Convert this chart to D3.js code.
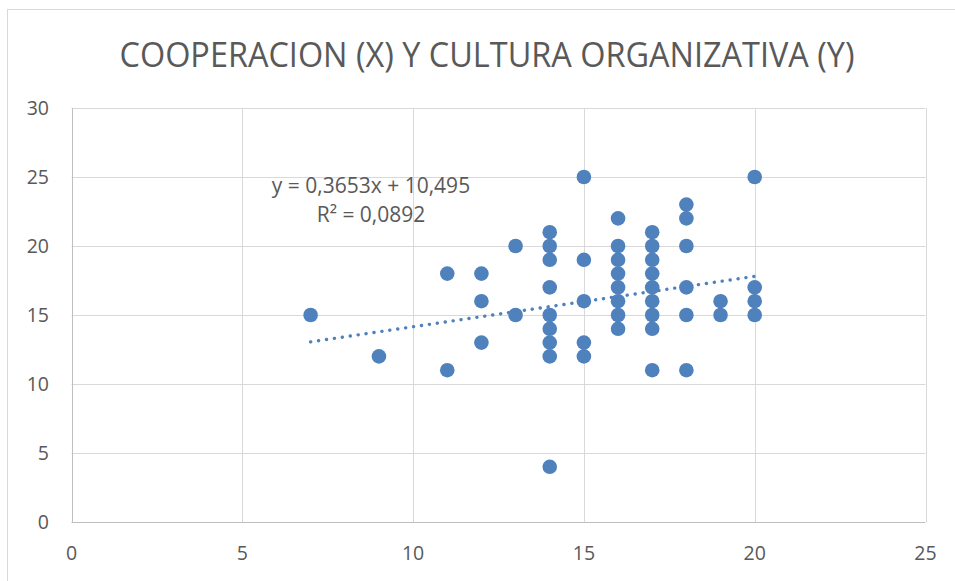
<!DOCTYPE html>
<html>
<head>
<meta charset="utf-8">
<script src="https://cdn.jsdelivr.net/npm/d3@7"></script>
<style>
  body { margin: 0; background: #fff; }
  text { font-family: "Open Sans", sans-serif; fill: #595959; }
</style>
</head>
<body>
<div id="chart"></div>
<script>
// puntos del grafico (x = cooperacion, y = cultura organizativa)
const cooperacion = [7, 9, 11, 11, 12, 12, 12, 13, 13,
  14, 14, 14, 14, 14, 14, 14, 14, 14,
  15, 15, 15, 15, 15,
  16, 16, 16, 16, 16, 16, 16, 16,
  17, 17, 17, 17, 17, 17, 17, 17, 17,
  18, 18, 18, 18, 18, 18,
  19, 19,
  20, 20, 20, 20];
const cultura = [15, 12, 18, 11, 18, 16, 13, 20, 15,
  21, 20, 19, 17, 15, 14, 13, 12, 4,
  25, 19, 16, 13, 12,
  22, 20, 19, 18, 17, 16, 15, 14,
  21, 20, 19, 18, 17, 16, 15, 14, 11,
  23, 22, 20, 17, 15, 11,
  16, 15,
  25, 17, 16, 15];

const xTicks = [0, 5, 10, 15, 20, 25];
const yTicks = [0, 5, 10, 15, 20, 25, 30];

// linea de tendencia
const slope = 0.3653, intercept = 10.495;
const eqLines = ["y = 0,3653x + 10,495", "R² = 0,0892"];
const title = "COOPERACION (X) Y CULTURA ORGANIZATIVA (Y)";

const width = 955, height = 581;
const svg = d3.select("#chart").append("svg")
  .attr("width", width)
  .attr("height", height);

// marco exterior
svg.append("rect")
  .attr("x", 7.5).attr("y", 9.5)
  .attr("width", 1000).attr("height", 700)
  .attr("fill", "#fff")
  .attr("stroke", "#d9d9d9");

const x = d3.scaleLinear().domain([0, 25]).range([71.5, 925.5]);
const y = d3.scaleLinear().domain([0, 30]).range([522, 108]);

// grid
svg.append("g").selectAll("line")
  .data(yTicks.filter(d => d > 0))
  .join("line")
  .attr("x1", x(0)).attr("x2", x(25))
  .attr("y1", d => Math.round(y(d)) + 0.5)
  .attr("y2", d => Math.round(y(d)) + 0.5)
  .attr("stroke", "#d9d9d9");

svg.append("g").selectAll("line")
  .data(xTicks.filter(d => d > 0))
  .join("line")
  .attr("y1", y(0)).attr("y2", y(30))
  .attr("x1", d => Math.round(x(d)) + 0.5)
  .attr("x2", d => Math.round(x(d)) + 0.5)
  .attr("stroke", "#d9d9d9");

// ejes
svg.append("line")
  .attr("x1", x(0)).attr("x2", x(25))
  .attr("y1", Math.round(y(0)) + 0.5).attr("y2", Math.round(y(0)) + 0.5)
  .attr("stroke", "#bfbfbf");
svg.append("line")
  .attr("x1", Math.round(x(0)) + 0.5).attr("x2", Math.round(x(0)) + 0.5)
  .attr("y1", y(0)).attr("y2", y(30))
  .attr("stroke", "#bfbfbf");

// etiquetas de los ejes
svg.append("g").selectAll("text")
  .data(yTicks)
  .join("text")
  .attr("x", 49)
  .attr("y", d => y(d))
  .attr("dy", "0.36em")
  .attr("text-anchor", "end")
  .style("font-size", "19.5px")
  .text(d => d);

svg.append("g").selectAll("text")
  .data(xTicks)
  .join("text")
  .attr("x", d => x(d))
  .attr("y", 560)
  .attr("text-anchor", "middle")
  .style("font-size", "19.5px")
  .text(d => d);

// titulo
svg.append("text")
  .attr("x", 487)
  .attr("y", 67)
  .attr("text-anchor", "middle")
  .attr("textLength", 735)
  .attr("lengthAdjust", "spacingAndGlyphs")
  .style("font-size", "35px")
  .text(title);

// tendencia (punteada)
const xMin = d3.min(cooperacion), xMax = d3.max(cooperacion);
svg.append("line")
  .attr("x1", x(xMin)).attr("y1", y(slope * xMin + intercept))
  .attr("x2", x(xMax)).attr("y2", y(slope * xMax + intercept))
  .attr("stroke", "#4f81bd")
  .attr("stroke-width", 3.4)
  .attr("stroke-linecap", "round")
  .attr("stroke-dasharray", "0.1 7.9");

// puntos
svg.append("g").selectAll("circle")
  .data(cooperacion.map((d, i) => [d, cultura[i]]))
  .join("circle")
  .attr("cx", d => x(d[0]))
  .attr("cy", d => y(d[1]))
  .attr("r", 7.3)
  .attr("fill", "#4f81bd");

// ecuacion
svg.append("g").selectAll("text")
  .data(eqLines)
  .join("text")
  .attr("x", 371)
  .attr("y", (d, i) => 193 + i * 29)
  .attr("text-anchor", "middle")
  .style("font-size", "21px")
  .text(d => d);
</script>
</body>
</html>
